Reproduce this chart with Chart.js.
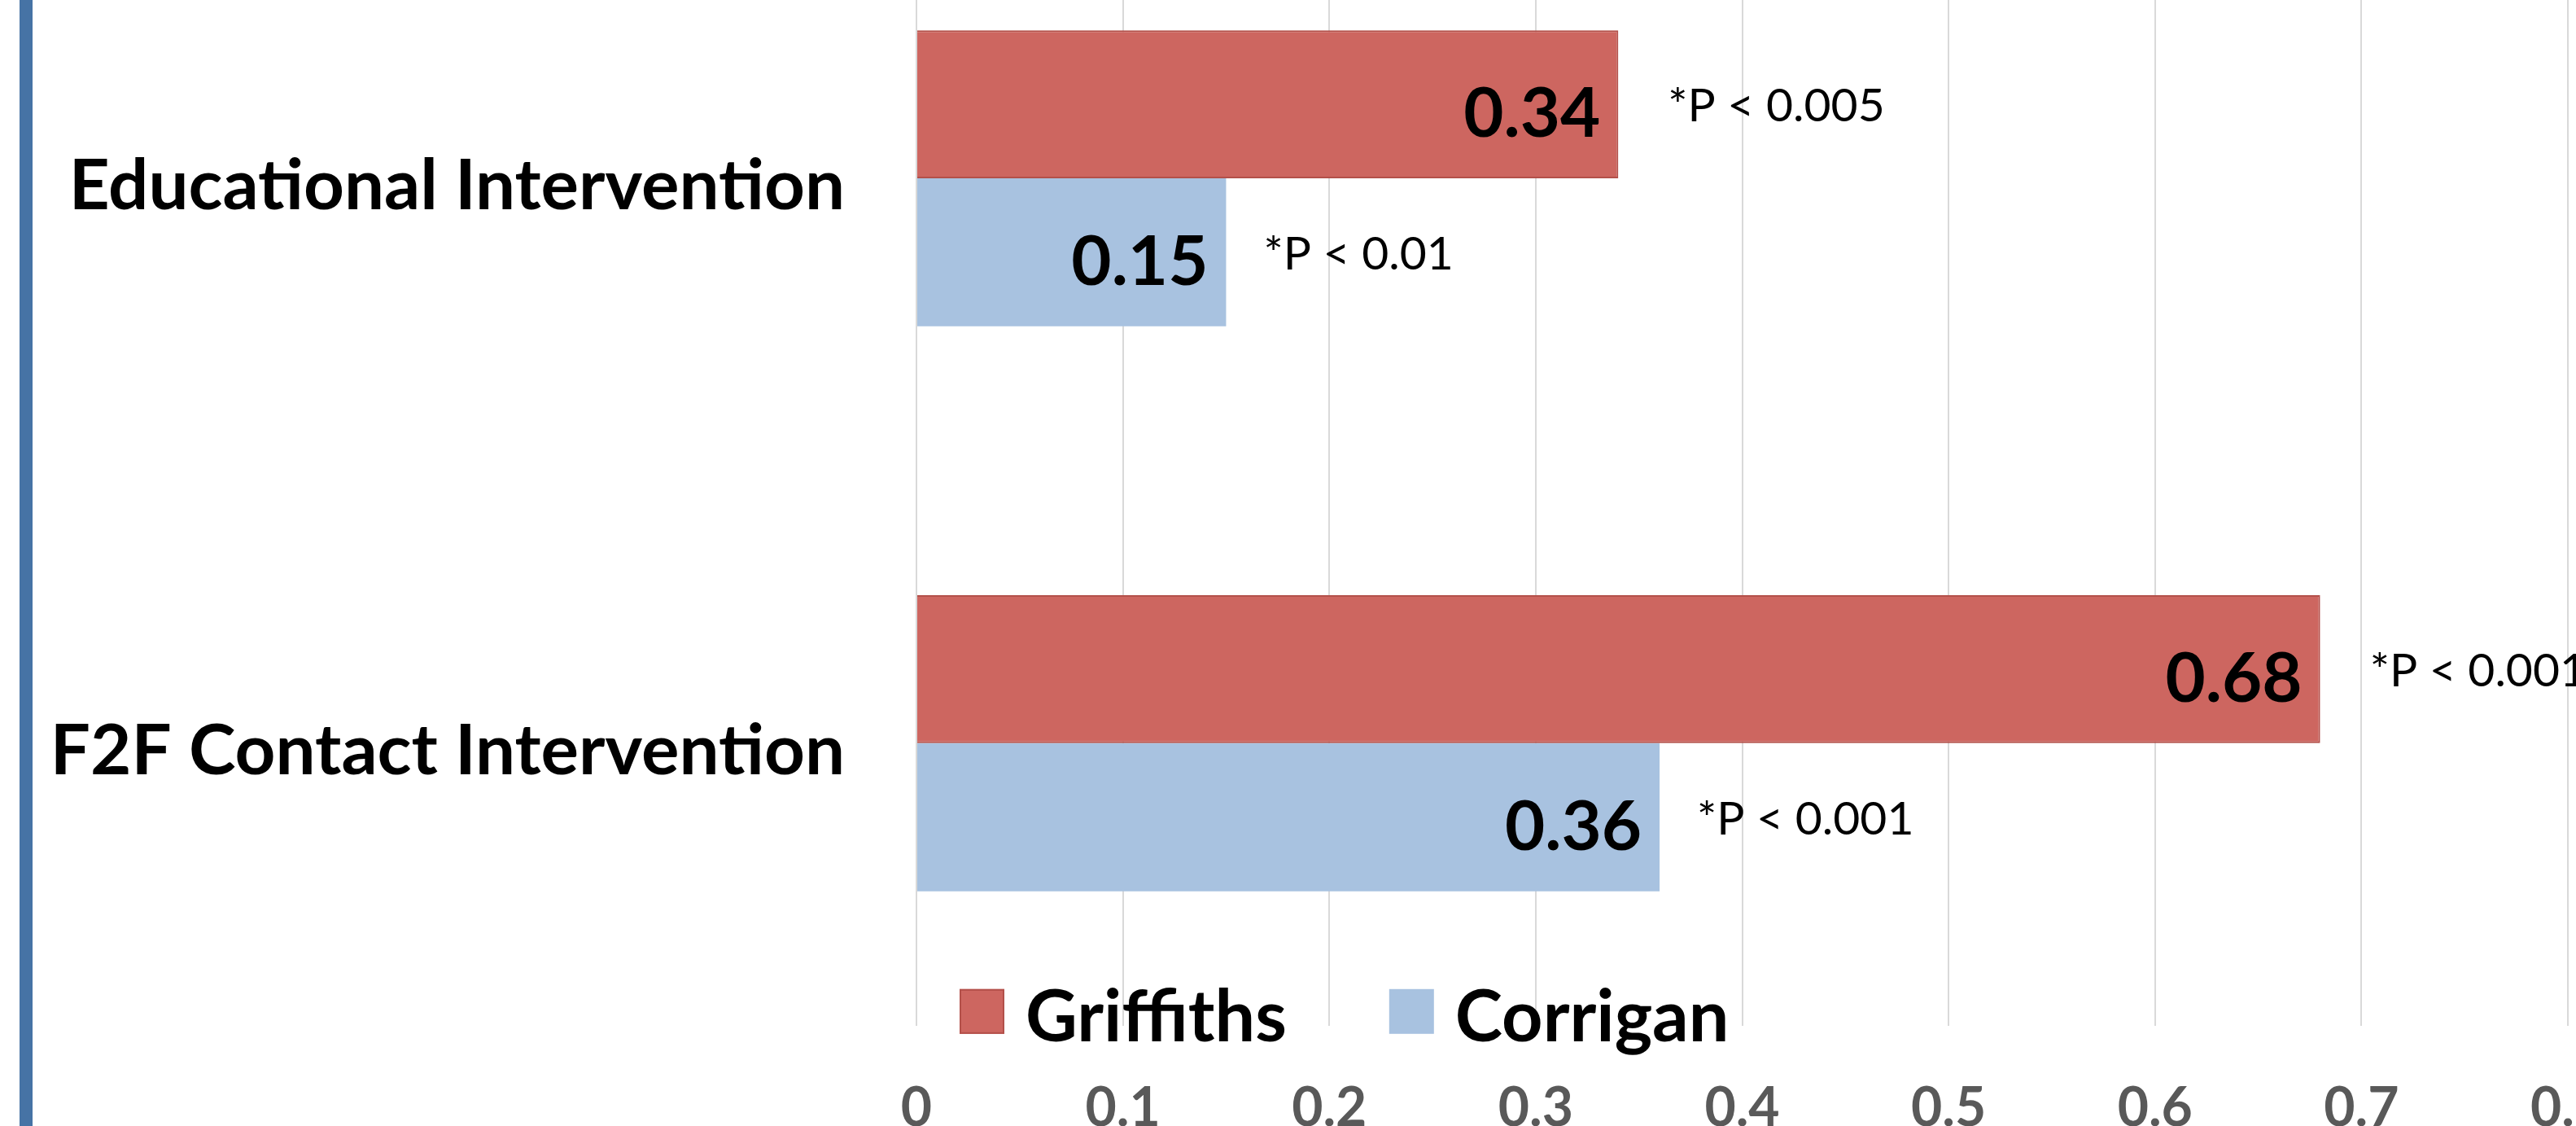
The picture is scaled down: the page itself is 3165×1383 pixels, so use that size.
<!DOCTYPE html>
<html>
<head>
<meta charset="utf-8">
<script src="https://cdn.jsdelivr.net/npm/chart.js@4"></script>
<style>
    html, body { margin: 0; padding: 0; background: #fff; overflow: hidden; width: 3165px; height: 1383px; }
    #barraLateral { position: absolute; left: 24px; top: 0; width: 16px; height: 1383px; background: #4673a5; z-index: 2; }
    #grafico { position: absolute; left: 0; top: -300px; }
</style>
</head>
<body>
<div id="barraLateral"></div>
<canvas id="grafico" width="3300" height="1700"></canvas>
<script>
const categories = ['Educational Intervention', 'F2F Contact Intervention'];
const griffiths = [0.34, 0.68];
const corrigan = [0.15, 0.36];
const pGriffiths = ['*P < 0.005', '*P < 0.001'];
const pCorrigan = ['*P < 0.01', '*P < 0.001'];
const tickLabels = ['0', '0.1', '0.2', '0.3', '0.4', '0.5', '0.6', '0.7', '0.8'];

const pTexts = [pGriffiths, pCorrigan];
const pGap = [61, 46];

// etiquetas de valor y de P junto a cada barra
const barLabels = {
    id: 'barLabels',
    afterDatasetsDraw(chart) {
        const ctx = chart.ctx;
        ctx.save();
        chart.data.datasets.forEach((ds, d) => {
            chart.getDatasetMeta(d).data.forEach((bar, i) => {
                ctx.fillStyle = '#000';
                ctx.textBaseline = 'middle';
                ctx.font = 'bold 85px Lato';
                ctx.textAlign = 'right';
                ctx.fillText(ds.data[i].toFixed(2), bar.x - 22, bar.y + 13);
                ctx.font = '57px Lato';
                ctx.textAlign = 'left';
                ctx.fillText(pTexts[d][i], bar.x + pGap[d], bar.y + 3);
            });
        });
        ctx.restore();
    }
};

// leyenda dentro del area del grafico, abajo
const innerLegend = {
    id: 'innerLegend',
    afterDraw(chart) {
        const ctx = chart.ctx;
        const area = chart.chartArea;
        const cy = area.bottom - 17;
        let x = area.left + 53;
        ctx.save();
        ctx.font = 'bold 88px Lato';
        ctx.textBaseline = 'middle';
        ctx.textAlign = 'left';
        chart.data.datasets.forEach(ds => {
            ctx.fillStyle = ds.backgroundColor;
            ctx.fillRect(x, cy - 28, 55, 55);
            if (ds.borderWidth) {
                ctx.strokeStyle = ds.borderColor;
                ctx.lineWidth = 2;
                ctx.strokeRect(x + 1, cy - 27, 53, 53);
            }
            x += 55 + 26;
            ctx.fillStyle = '#000';
            ctx.fillText(ds.label, x, cy + 8);
            x += ctx.measureText(ds.label).width + 126;
        });
        ctx.restore();
    }
};

function cargarGrafico() {
    new Chart(document.getElementById('grafico'), {
        type: 'bar',
        data: {
            labels: categories,
            datasets: [
                { label: 'Griffiths', data: griffiths, backgroundColor: '#cd6660', borderColor: '#b3504a', borderWidth: 2 },
                { label: 'Corrigan', data: corrigan, backgroundColor: '#a8c2e0', borderWidth: 0 }
            ]
        },
        options: {
            indexAxis: 'y',
            responsive: false,
            animation: false,
            categoryPercentage: 0.524,
            barPercentage: 1.0,
            layout: { padding: { top: 172, right: 145, left: 0, bottom: 0 } },
            plugins: {
                legend: { display: false },
                tooltip: { enabled: false }
            },
            scales: {
                x: {
                    min: 0,
                    max: 0.8,
                    ticks: {
                        stepSize: 0.1,
                        padding: 62,
                        color: '#595959',
                        font: { family: 'Lato', weight: 'bold', size: 66 },
                        callback: (v, i) => tickLabels[i]
                    },
                    grid: { color: '#d9d9d9', lineWidth: 2, drawTicks: false },
                    border: { display: false },
                    afterFit: s => { s.height = 140; }
                },
                y: {
                    ticks: {
                        padding: 88,
                        labelOffset: 10,
                        color: '#000',
                        font: { family: 'Lato', weight: 'bold', size: 87 }
                    },
                    grid: { display: false, drawTicks: false },
                    border: { display: false },
                    afterFit: s => { s.width = 1126; }
                }
            }
        },
        plugins: [barLabels, innerLegend]
    });
}

document.addEventListener('DOMContentLoaded', () => {
    Promise.all([
        document.fonts.load('bold 85px Lato'),
        document.fonts.load('57px Lato')
    ]).then(cargarGrafico, cargarGrafico);
});
</script>
</body>
</html>
